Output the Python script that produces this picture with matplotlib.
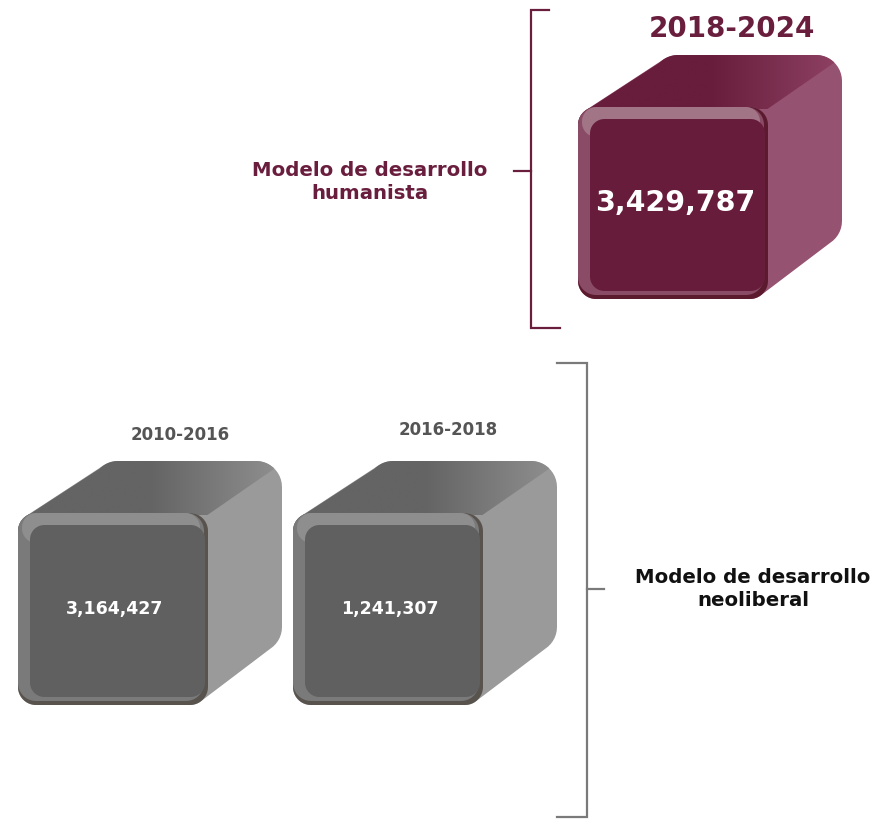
import numpy as np
import matplotlib
matplotlib.use("Agg")
import matplotlib.pyplot as plt
from matplotlib.patches import Polygon
from matplotlib.colors import LinearSegmentedColormap

# ---- data ----
periods = ["2010-2016", "2016-2018", "2018-2024"]
values = [3164427, 1241307, 3429787]
model = ["neoliberal", "neoliberal", "humanista"]
group_labels = {"humanista": "Modelo de desarrollo\nhumanista",
                "neoliberal": "Modelo de desarrollo\nneoliberal"}

# ---- layout / style ----
plt.rcParams["font.family"] = ["DejaVu Sans"]

styles = {
    "neoliberal": dict(inner="#606060", rim_l="#7a7a7a", rim_t="#8e8e8e", rim_d="#58534d",
                       top0="#646464", top1="#909090", side="#9a9a9a",
                       period_color="#555555", period_size=12, value_size=12.5,
                       label_color="#111111", bracket="#7a7a7a"),
    "humanista": dict(inner="#681c3b", rim_l="#8a4b66", rim_t="#a27586", rim_d="#5c1a2f",
                      top0="#681d3c", top1="#8f4264", side="#965271",
                      period_color="#6a1e3e", period_size=20, value_size=20.5,
                      label_color="#6a1e3e", bracket="#6a1e3e"),
}
box_left = [18, 293, 578]
box_top = [513, 513, 107]
period_pos = [(180, 435), (448, 430), (732, 29)]
box_w, box_h = 190, 192
depth = (74, -52)
radius = 18
back_radius = 26

fig = plt.figure(figsize=(8.78, 8.19), dpi=100)
ax = fig.add_axes([0, 0, 1, 1])
ax.set_xlim(0, 878)
ax.set_ylim(819, 0)
ax.axis("off")


def arc(cx, cy, r, a0, a1, n=12):
    t = np.radians(np.linspace(a0, a1, n))
    return np.column_stack([cx + r * np.cos(t), cy - r * np.sin(t)])


def rrect(x0, y0, x1, y1, r):
    return np.vstack([arc(x1 - r, y0 + r, r, 0, 90),
                      arc(x0 + r, y0 + r, r, 90, 180),
                      arc(x0 + r, y1 - r, r, 180, 270),
                      arc(x1 - r, y1 - r, r, 270, 360)])


def hull(pts):
    pts = sorted(map(tuple, pts))
    def cross(o, a, b):
        return (a[0]-o[0])*(b[1]-o[1]) - (a[1]-o[1])*(b[0]-o[0])
    lower, upper = [], []
    for p in pts:
        while len(lower) >= 2 and cross(lower[-2], lower[-1], p) <= 0:
            lower.pop()
        lower.append(p)
    for p in reversed(pts):
        while len(upper) >= 2 and cross(upper[-2], upper[-1], p) <= 0:
            upper.pop()
        upper.append(p)
    return np.array(lower[:-1] + upper[:-1])


def draw_box(x0, y0, st):
    x1, y1 = x0 + box_w, y0 + box_h
    dx, dy = depth
    r, rb = radius, back_radius
    front = rrect(x0, y0, x1, y1, r)
    bx0, by0, bx1, by1 = x0 + dx, y0 + dy, x1 + dx, y1 + dy
    back = rrect(bx0, by0, bx1, by1, rb)
    ax.add_patch(Polygon(hull(np.vstack([front, back])), closed=True,
                         fc=st["side"], ec="none", zorder=2))
    top = np.vstack([arc(bx0 + rb, by0 + rb, rb, 135, 90),
                     arc(bx1 - rb, by0 + rb, rb, 90, 45),
                     arc(x1 - r, y0 + r, r, 45, 90),
                     arc(x0 + r, y0 + r, r, 90, 135)])
    tp = Polygon(top, closed=True, fc="none", ec="none", zorder=3)
    ax.add_patch(tp)
    cmap = LinearSegmentedColormap.from_list("g", [st["top0"], st["top0"], st["top1"]])
    grad = np.linspace(0, 1, 256)[None, :]
    im = ax.imshow(grad, cmap=cmap, aspect="auto", zorder=3,
                   extent=[x0, bx1, y0 + 2, by0], interpolation="bilinear")
    im.set_clip_path(tp)
    ax.add_patch(Polygon(front, closed=True, fc=st["rim_d"], ec="none", zorder=4))
    ax.add_patch(Polygon(rrect(x0, y0, x1 - 4, y1 - 4, r), closed=True,
                         fc=st["rim_l"], ec="none", zorder=4))
    ax.add_patch(Polygon(rrect(x0 + 4, y0, x1 - 8, y0 + 30, r * 0.8), closed=True,
                         fc=st["rim_t"], ec="none", zorder=4))
    ax.add_patch(Polygon(rrect(x0 + 12, y0 + 12, x1 - 3, y1 - 8, r * 0.8), closed=True,
                         fc=st["inner"], ec="none", zorder=5))
    return (x0 + x1) / 2 + 2, (y0 + y1) / 2


for i, (p, v, m) in enumerate(zip(periods, values, model)):
    st = styles[m]
    cx, cy = draw_box(box_left[i], box_top[i], st)
    ax.text(cx, cy, f"{v:,}", color="white", fontsize=st["value_size"],
            fontweight="bold", ha="center", va="center", zorder=6)
    ax.text(period_pos[i][0], period_pos[i][1], p, color=st["period_color"],
            fontsize=st["period_size"], fontweight="bold",
            ha="center", va="center")

sh = styles["humanista"]
ax.plot([549, 531, 531, 560], [10, 10, 328, 328], color=sh["bracket"], lw=1.6,
        solid_joinstyle="miter")
ax.plot([514, 531], [171, 171], color=sh["bracket"], lw=1.6)
ax.text(370, 182, group_labels["humanista"], color=sh["label_color"], fontsize=14.2,
        fontweight="bold", ha="center", va="center", linespacing=1.25)

sn = styles["neoliberal"]
ax.plot([557, 587, 587, 557], [363, 363, 817, 817], color=sn["bracket"], lw=1.6,
        solid_joinstyle="miter")
ax.plot([587, 604], [589, 589], color=sn["bracket"], lw=1.6)
ax.text(753, 589, group_labels["neoliberal"], color=sn["label_color"], fontsize=14.2,
        fontweight="bold", ha="center", va="center", linespacing=1.25)

fig.savefig("out.png", dpi=100)
